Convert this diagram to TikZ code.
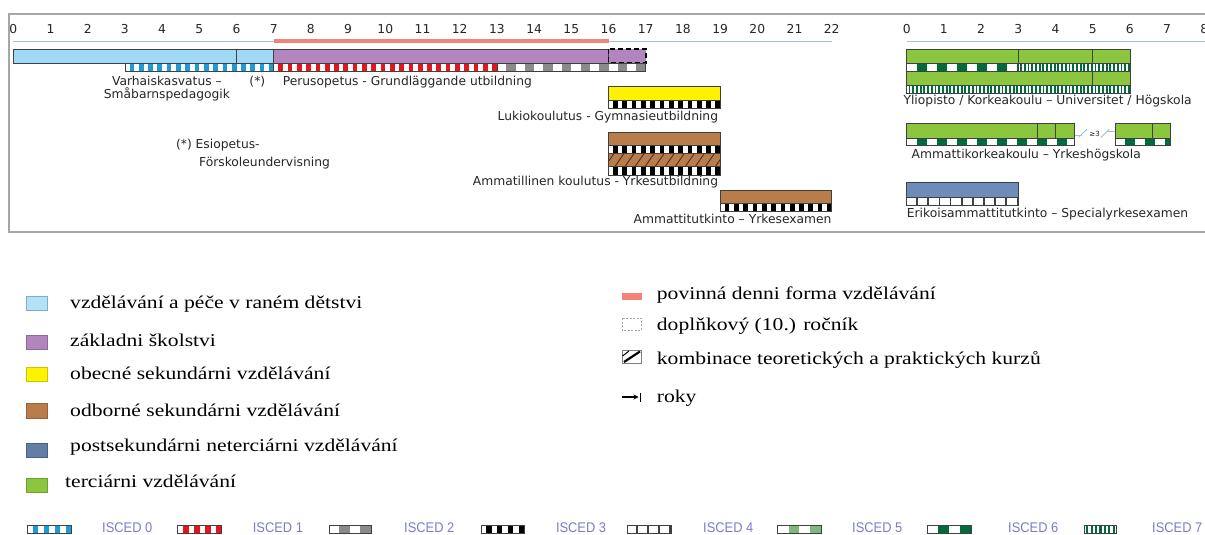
\documentclass[tikz,border=0pt]{standalone}
\usepackage{fontspec}
\usetikzlibrary{arrows.meta}
\newfontfamily\chartfont{DejaVu Sans}
\newfontfamily\legfont{Liberation Serif}[FakeStretch=1.2]
\newfontfamily\iscedfont{Liberation Sans}[FakeStretch=0.92]
\definecolor{ecec}{HTML}{9FD9F6}
\definecolor{iscA}{HTML}{1A9BDC}
\definecolor{purp}{HTML}{B385BF}
\definecolor{iscB}{HTML}{E3161E}
\definecolor{iscC}{HTML}{8A8A8A}
\definecolor{yell}{HTML}{FFF200}
\definecolor{brn}{HTML}{B97C4B}
\definecolor{hatchc}{HTML}{4A2E18}
\definecolor{bgrey}{HTML}{6D8CBA}
\definecolor{grn}{HTML}{8CC63E}
\definecolor{dkgrn}{HTML}{006B3C}
\definecolor{midgrn}{HTML}{7DB87D}
\definecolor{salmon}{HTML}{F28378}
\definecolor{axisblue}{HTML}{9CC2E5}
\definecolor{framec}{HTML}{A6A6A6}
\definecolor{iscedtext}{HTML}{7C7CC9}
\definecolor{barb}{HTML}{404040}
\definecolor{txt}{HTML}{262626}
\newcommand\iscstrip[7]{%
  \fill[white] (#1,#3) rectangle (#2,#4);
  \pgfmathsetmacro\stA{#1}%
  \pgfmathsetmacro\stB{#2}%
  \pgfmathsetmacro\stP{#6}%
  \pgfmathtruncatemacro\stN{ceil((\stB-\stA)/\stP)-1}%
  \foreach \k in {0,...,\stN}{%
    \pgfmathsetmacro\stXa{\stA+\k*\stP+(1-#7)*\stP}%
    \pgfmathsetmacro\stXb{min(\stA+(\k+1)*\stP,\stB)}%
    \ifdim\stXa pt<\stXb pt\relax \fill[#5] (\stXa,#3) rectangle (\stXb,#4);\fi
  }%
  \draw[stripborder] (#1,#3) rectangle (#2,#4);
}
\tikzset{
  num/.style={font=\chartfont\fontsize{12.3}{14}\selectfont, text=txt, inner sep=0},
  lbl/.style={font=\chartfont\fontsize{12.3}{14}\selectfont, text=txt, inner sep=0, anchor=base},
  leg/.style={font=\legfont\fontsize{18}{20}\selectfont, text=black, inner sep=0, anchor=base west},
  isclbl/.style={font=\iscedfont\fontsize{14}{16}\selectfont, text=iscedtext, inner sep=0, anchor=base west},
  bar/.style={draw=barb, line width=0.8},
  stripborder/.style={draw=barb, line width=0.6},
  divider/.style={draw=barb, line width=0.8},
  legsq/.style={line width=0.6},
}
\begin{document}
\begin{tikzpicture}[x=1pt,y=-1pt]
\clip (0,0) rectangle (1205,535);
\fill[white] (0,0) rectangle (1205,535);
% frame
\draw[framec, line width=2] (1210,14) -- (9,14) -- (9,232) -- (1210,232);

% ---------- left chart ----------
\begin{scope}[xshift=13.3pt, x=37.2pt]
  \foreach \i in {0,...,22} \node[num] (nL\i) at (\i,29) {\i};
  \draw[axisblue, line width=1.2] (0,41.3) -- (22,41.3);
  \draw[salmon, line width=4] (7,41.3) -- (16,41.3);
  % row 1
  \filldraw[bar, fill=ecec] (0,49) rectangle (7,63.3);
  \draw[divider] (6,49) -- (6,63.3);
  \filldraw[bar, fill=purp] (7,49) rectangle (16,63.3);
  \filldraw[fill=purp, draw=black, line width=1.8, dash pattern=on 5pt off 3pt] (16,49.3) rectangle (17,63.3);
  \iscstrip{3}{7}{63.3}{71}{iscA}{0.25}{0.5}
  \iscstrip{7}{13}{63.3}{71}{iscB}{0.25}{0.5}
  \iscstrip{13}{17}{63.3}{71}{iscC}{0.5}{0.5}
  % row 2
  \filldraw[bar, fill=yell] (16,86) rectangle (19,100.7);
  \iscstrip{16}{19}{100.7}{108.3}{black}{0.25}{0.5}
  % row 3
  \filldraw[bar, fill=brn] (16,132) rectangle (19,145.3);
  \iscstrip{16}{19}{145.3}{153.3}{black}{0.25}{0.5}
  \begin{scope}
    \clip (16,153.3) rectangle (19,166.7);
    \fill[brn] (16,153.3) rectangle (19,166.7);
    \foreach \h in {0,...,12} \draw[hatchc, line width=0.9] (16+\h*0.27-0.1,166.7) -- (16+\h*0.27+0.15,153.3);
  \end{scope}
  \draw[bar] (16,153.3) rectangle (19,166.7);
  \iscstrip{16}{19}{166.7}{175}{black}{0.25}{0.5}
  % row 4
  \filldraw[bar, fill=brn] (19,190) rectangle (22,203.3);
  \iscstrip{19}{22}{203.3}{211}{black}{0.25}{0.5}
  % labels
  \node[lbl] (varh1) at (4.13,85) {Varhaiskasvatus –};
  \node[lbl] (varh2) at (4.13,98.5) {Småbarnspedagogik};
  \node[lbl] (star) at (6.56,85) {(*)};
  \node[lbl, anchor=base west] (perus) at (7.24,85) {Perusopetus - Grundläggande utbildning};
  \node[lbl, anchor=base west] (esio1) at (4.37,148.3) {(*) Esiopetus-};
  \node[lbl, anchor=base west] (esio2) at (4.99,166.7) {Förskoleundervisning};
  \node[lbl, anchor=base east] (luki) at (18.95,121) {Lukiokoulutus - Gymnasieutbildning};
  \node[lbl, anchor=base east] (ammk) at (18.95,185) {Ammatillinen koulutus - Yrkesutbildning};
  \node[lbl, anchor=base east] (ammt) at (22,223.3) {Ammattitutkinto – Yrkesexamen};
\end{scope}

% ---------- right chart ----------
\begin{scope}[xshift=906.7pt, x=37.2pt]
  \foreach \i in {0,...,8} \node[num] (nR\i) at (\i,29) {\i};
  \draw[axisblue, line width=1.2] (0,41.3) -- (8.2,41.3);
  % Yliopisto
  \filldraw[bar, fill=grn] (0,49.3) rectangle (6,63.3);
  \draw[divider] (3,49.3) -- (3,63.3);
  \draw[divider] (5,49.3) -- (5,63.3);
  \iscstrip{0}{3}{63.3}{71}{dkgrn}{0.54}{0.5}
  \iscstrip{3}{6}{63.3}{71}{dkgrn}{0.1}{0.5}
  \filldraw[bar, fill=grn] (0,71) rectangle (6,85);
  \draw[divider] (5,71) -- (5,85);
  \iscstrip{0}{6}{85}{93.3}{dkgrn}{0.1}{0.5}
  \node[lbl, anchor=base west] (ylio) at (-0.09,104) {Yliopisto / Korkeakoulu – Universitet / Högskola};
  % Ammattikorkeakoulu
  \filldraw[bar, fill=grn] (0,123.3) rectangle (4.5,138.3);
  \draw[divider] (3.5,123.3) -- (3.5,138.3);
  \draw[divider] (4,123.3) -- (4,138.3);
  \iscstrip{0}{4.5}{138.3}{145.7}{dkgrn}{0.54}{0.5}
  \filldraw[bar, fill=grn] (5.6,123.3) rectangle (7.08,138.3);
  \draw[divider] (6.6,123.3) -- (6.6,138.3);
  \iscstrip{5.6}{7.08}{138.3}{145.7}{dkgrn}{0.54}{0.5}
  \draw[axisblue, line width=0.9] (4.52,135) -- (4.72,135);
  \draw[axisblue, line width=0.9] (4.62,137.5) -- (4.85,129);
  \node[font=\chartfont\fontsize{7}{8}\selectfont, text=txt, inner sep=0] (ge3) at (5.05,133.5) {≥3};
  \draw[axisblue, line width=0.9] (5.22,137.5) -- (5.45,129);
  \draw[axisblue, line width=0.9] (5.38,131.5) -- (5.6,131.5);
  \node[lbl, anchor=base west] (amko) at (0.13,158.3) {Ammattikorkeakoulu – Yrkeshögskola};
  % Erikoisammattitutkinto
  \filldraw[bar, fill=bgrey] (0,182.7) rectangle (3,197.3);
  \iscstrip{0}{3}{197.3}{205}{barb}{0.3}{0.15}
  \node[lbl, anchor=base west] (erik) at (0,217.3) {Erikoisammattitutkinto – Specialyrkesexamen};
\end{scope}

% ---------- legend left ----------
\filldraw[legsq, fill=ecec!80!white, draw=ecec!80!black] (26,296.7) rectangle (47,310);
\node[leg] (l1) at (70,308.5) {vzdělávání a péče v raném dětstvi};
\filldraw[legsq, fill=purp, draw=purp!80!black] (26,335) rectangle (47,349);
\node[leg] (l2) at (70,346.7) {základni školstvi};
\filldraw[legsq, fill=yell, draw=yell!80!black] (26,367) rectangle (47,381);
\node[leg] (l3) at (70,379) {obecné sekundárni vzdělávání};
\filldraw[legsq, fill=brn, draw=brn!80!black] (26,403.5) rectangle (47,418);
\node[leg] (l4) at (70,416.7) {odborné sekundárni vzdělávání};
\filldraw[legsq, fill=bgrey!90!black, draw=bgrey!70!black] (26,443) rectangle (47,457);
\node[leg] (l5) at (70,451) {postsekundárni neterciárni vzdělávání};
\filldraw[legsq, fill=grn, draw=grn!80!black] (26,478) rectangle (47,492);
\node[leg] (l6) at (65,487.3) {terciárni vzdělávání};

% ---------- legend right ----------
\fill[salmon] (621.7,292.5) rectangle (641.7,299.5);
\node[leg] (r1) at (656.7,299) {povinná denni forma vzdělávání};
\draw[gray!70, line width=0.7, dash pattern=on 2pt off 1.5pt] (622,318.3) rectangle (641.5,330);
\node[leg] (r2) at (656.7,330) {doplňkový (10.) ročník};
\draw[gray, line width=0.7] (622,350.5) rectangle (641.5,363);
\draw[black, line width=2.2] (624,362) -- (640,351.5);
\draw[black, line width=1] (622.5,356) -- (629,351);
\node[leg] (r3) at (656.7,364.3) {kombinace teoretických a praktických kurzů};
\coordinate (arrA) at (622,397);
\coordinate (arrB) at (638.5,397);
\draw[black, line width=1.2, -{Stealth[length=5pt,width=5pt]}] (arrA) -- (arrB);
\draw[black, line width=1.6] (640.5,392.5) -- (640.5,401.5);
\node[leg] (r4) at (656.7,402.3) {roky};

% ---------- ISCED row ----------
\iscstrip{27}{71}{525}{533}{iscA}{11}{0.5}
\node[isclbl] (i0) at (102,532) {ISCED 0};
\iscstrip{177.7}{221.7}{525}{533}{iscB}{11}{0.5}
\node[isclbl] (i1) at (252.7,532) {ISCED 1};
\iscstrip{328.8}{371}{525}{533}{iscC}{21}{0.5}
\node[isclbl] (i2) at (404,532) {ISCED 2};
\iscstrip{480.8}{524}{525}{533}{black}{10.8}{0.5}
\node[isclbl] (i3) at (555.8,532) {ISCED 3};
\iscstrip{627}{671}{525}{533}{barb}{11}{0.15}
\node[isclbl] (i4) at (703,532) {ISCED 4};
\iscstrip{777.7}{821}{525}{533}{midgrn}{21.6}{0.5}
\node[isclbl] (i5) at (852,532) {ISCED 5};
\iscstrip{927}{971}{525}{533}{dkgrn}{22}{0.5}
\node[isclbl] (i6) at (1008,532) {ISCED 6};
\iscstrip{1084}{1116}{525}{533}{dkgrn}{4.4}{0.5}
\node[isclbl] (i7) at (1152,532) {ISCED 7};
\end{tikzpicture}
\end{document}
